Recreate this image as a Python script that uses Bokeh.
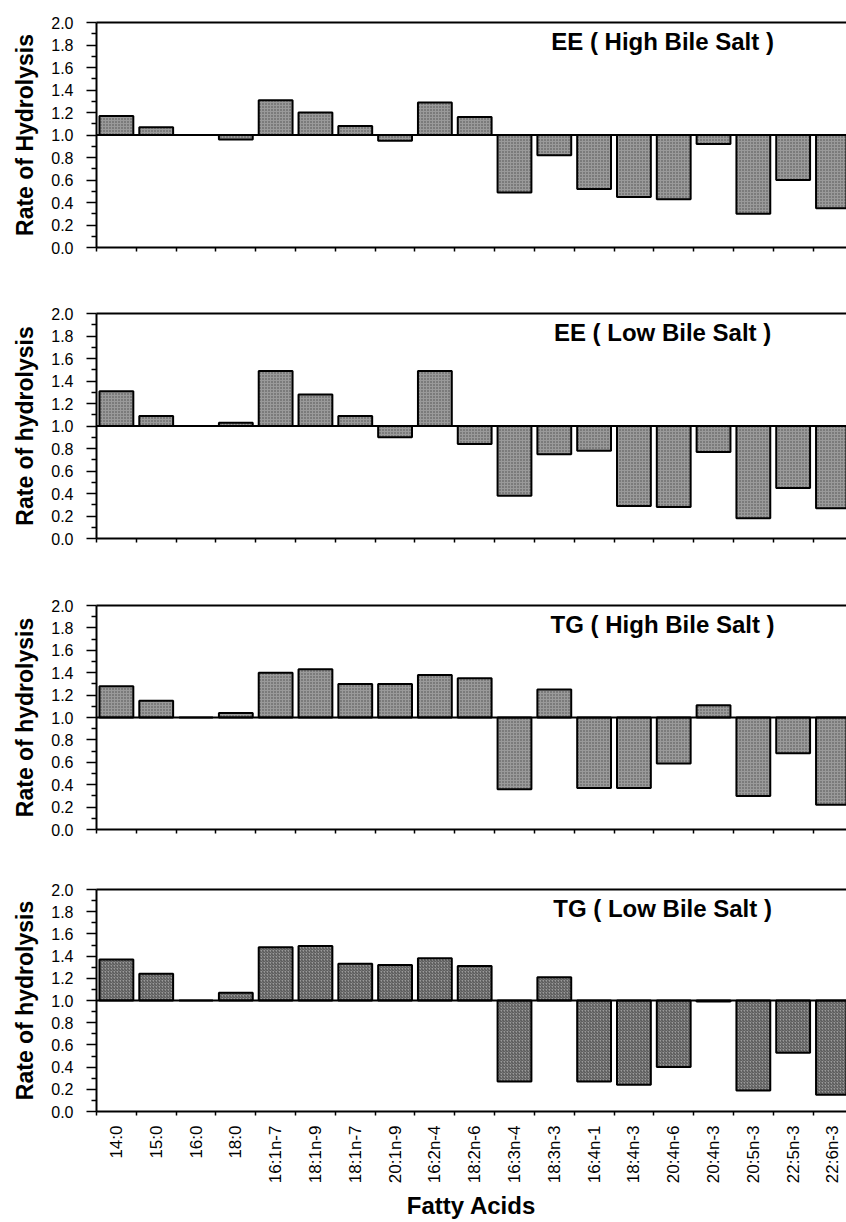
import math
from bokeh.plotting import figure
from bokeh.layouts import column
from bokeh.models import Range1d, FixedTicker, LinearAxis, Span, Label, ColumnDataSource
from bokeh.embed import file_html
from bokeh.resources import INLINE

# ---------------- data ----------------
acids = ["14:0", "15:0", "16:0", "18:0", "16:1n-7", "18:1n-9", "18:1n-7", "20:1n-9",
         "16:2n-4", "18:2n-6", "16:3n-4", "18:3n-3", "16:4n-1", "18:4n-3", "20:4n-6",
         "20:4n-3", "20:5n-3", "22:5n-3", "22:6n-3"]

ee_high = [1.17, 1.07, 1.00, 0.96, 1.31, 1.20, 1.08, 0.95, 1.29, 1.16,
           0.49, 0.82, 0.52, 0.45, 0.43, 0.92, 0.30, 0.60, 0.35]
ee_low = [1.31, 1.09, 1.00, 1.03, 1.49, 1.28, 1.09, 0.90, 1.49, 0.84,
          0.38, 0.75, 0.78, 0.29, 0.28, 0.77, 0.18, 0.45, 0.27]
tg_high = [1.28, 1.15, 1.00, 1.04, 1.40, 1.43, 1.30, 1.30, 1.38, 1.35,
           0.36, 1.25, 0.37, 0.37, 0.59, 1.11, 0.30, 0.68, 0.22]
tg_low = [1.37, 1.24, 1.00, 1.07, 1.48, 1.49, 1.33, 1.32, 1.38, 1.31,
          0.27, 1.21, 0.27, 0.24, 0.40, 0.99, 0.19, 0.53, 0.15]

series = [ee_high, ee_low, tg_high, tg_low]
panel_titles = ["EE ( High Bile Salt )", "EE ( Low Bile Salt )",
                "TG ( High Bile Salt )", "TG ( Low Bile Salt )"]
y_titles = ["Rate of Hydrolysis", "Rate of hydrolysis",
            "Rate of hydrolysis", "Rate of hydrolysis"]
x_title = "Fatty Acids"
y_major_ticks = [0.0, 0.2, 0.4, 0.6, 0.8, 1.0, 1.2, 1.4, 1.6, 1.8, 2.0]
y_minor_ticks = [0.1, 0.3, 0.5, 0.7, 0.9, 1.1, 1.3, 1.5, 1.7, 1.9]
baseline = 1.0

FONT = "Liberation Sans"
centers = [i + 0.5 for i in range(len(acids))]
bounds = [float(i) for i in range(len(acids) + 1)]

heights = [299, 292, 284, 347]
borders_top = [22, 14, 14, 14]
borders_bottom = [52, 53, 46, 108]

figs = []
for k in range(4):
    last = (k == 3)
    p = figure(width=846, height=heights[k], output_backend="svg", toolbar_location=None,
               x_range=Range1d(0, 18.84), y_range=Range1d(0, 2.0),
               min_border_left=96, min_border_right=0, min_border_top=borders_top[k],
               min_border_bottom=borders_bottom[k])
    p.outline_line_color = None
    p.xgrid.visible = False
    p.ygrid.visible = False
    p.background_fill_color = "white"
    p.border_fill_color = "white"

    src = ColumnDataSource(dict(x=centers, top=series[k], bottom=[baseline] * len(acids)))
    p.vbar(x="x", top="top", bottom="bottom", width=0.85, source=src,
           fill_color="#9a9a9a", line_color="black", line_width=2,
           hatch_pattern=("right_diagonal_line" if last else "dot"),
           hatch_color="#3a3a3a", hatch_scale=3, hatch_weight=1, hatch_alpha=0.8)

    p.add_layout(Span(location=baseline, dimension="width", line_color="black", line_width=2))

    # y axis
    ya = p.yaxis[0]
    ya.ticker = FixedTicker(ticks=y_major_ticks, minor_ticks=y_minor_ticks)
    ya.major_label_overrides = {t: f"{t:.1f}" for t in y_major_ticks}
    ya.axis_line_width = 2
    ya.major_tick_out = 10
    ya.major_tick_in = 0
    ya.minor_tick_out = 5
    ya.minor_tick_in = 0
    ya.major_tick_line_width = 1.5
    ya.minor_tick_line_width = 1.5
    ya.major_label_standoff = 13
    ya.major_label_text_font = FONT
    ya.major_label_text_font_size = "16px"
    ya.major_label_text_color = "black"
    ya.axis_label = y_titles[k]
    ya.axis_label_text_font = FONT
    ya.axis_label_text_font_style = "bold"
    ya.axis_label_text_font_size = "23px"
    ya.axis_label_standoff = 10
    ya.axis_label_text_color = "black"

    # x axis
    xa = p.xaxis[0]
    xa.axis_line_width = 2
    xa.major_tick_line_color = None
    xa.minor_tick_out = 4
    xa.minor_tick_in = 0
    xa.minor_tick_line_width = 1.5
    if last:
        xa.ticker = FixedTicker(ticks=centers, minor_ticks=bounds)
        xa.major_label_overrides = {c: a for c, a in zip(centers, acids)}
        xa.major_label_orientation = math.pi / 2
        xa.major_label_text_font = FONT
        xa.major_label_text_font_size = "17px"
        xa.major_label_text_color = "black"
        xa.major_label_standoff = 8
        xa.axis_label = x_title
        xa.axis_label_text_font = FONT
        xa.axis_label_text_font_style = "bold"
        xa.axis_label_text_font_size = "24px"
        xa.axis_label_standoff = 6
        xa.axis_label_text_color = "black"
    else:
        xa.ticker = FixedTicker(ticks=[], minor_ticks=bounds)

    # top border line
    top_axis = LinearAxis(ticker=FixedTicker(ticks=[]),
                          axis_line_width=2, major_tick_line_color=None,
                          minor_tick_line_color=None)
    p.add_layout(top_axis, "above")

    p.add_layout(Label(x=14.22, y=1.83, text=panel_titles[k], text_align="center",
                       text_baseline="middle", text_font=FONT, text_font_style="bold",
                       text_font_size="24px", text_color="black"))
    figs.append(p)

layout = column(*figs, spacing=0)
open("out.html", "w").write(file_html(layout, INLINE))
